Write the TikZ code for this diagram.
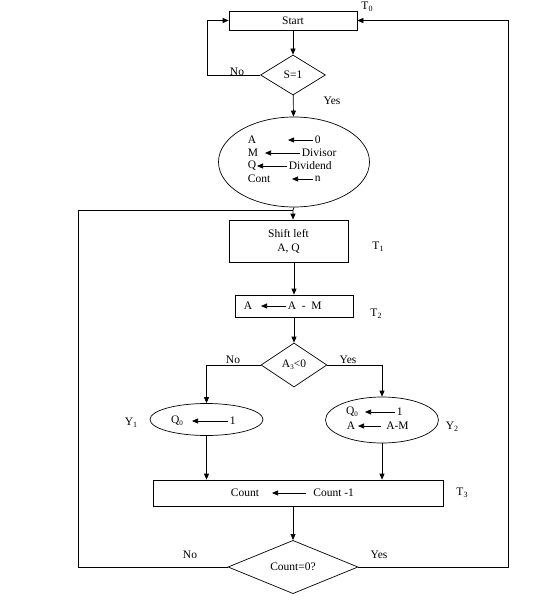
\documentclass[tikz,border=0pt]{standalone}
\usepackage{fontspec}
\setmainfont{Liberation Serif}
\usetikzlibrary{arrows.meta,shapes.geometric}
\newcommand{\lowidx}[1]{\raisebox{-.45ex}{\footnotesize #1}}
\newcommand{\tinyidx}[1]{\raisebox{-.35ex}{\scriptsize #1}}

\begin{document}
\begin{tikzpicture}[x=1pt,y=-1pt,font=\fontsize{11.5}{14}\selectfont,line width=.7pt,
  tip/.style={-{Triangle[length=6pt,width=5pt]}},
  box/.style={draw,rectangle,inner sep=0pt},
  test/.style={draw,diamond,inner sep=0pt},
  oval/.style={draw,ellipse,inner sep=0pt},
  lbl/.style={inner sep=1pt},
  rt/.style={anchor=west,inner sep=1.5pt}]
\useasboundingbox (0,0) rectangle (558,602);

% blocks
\node[box,minimum width=128,minimum height=19] (start) at (293,20.5) {Start};
\node[test,minimum width=65,minimum height=40] (s1) at (293,75) {S=1};
\node[oval,minimum width=151,minimum height=90] (init) at (294,162) {};
\node[box,minimum width=119,minimum height=42,align=center] (shift) at (288.5,241) {Shift left\\A, Q};
\node[box,minimum width=118,minimum height=22] (am) at (294,306) {};
\node[test,minimum width=66,minimum height=44] (a3) at (294,365) {A\tinyidx{3}<0};
\node[oval,minimum width=113,minimum height=32] (y1) at (206.5,419.5) {};
\node[oval,minimum width=113,minimum height=46] (y2) at (382,420) {};
\node[box,minimum width=290,minimum height=26] (cnt) at (298,493) {};
\node[test,minimum width=130,minimum height=46] (cz) at (293,567) {Count=0?};

% text inside the initial ellipse
\node[rt] (ia) at (246,140) {A};
\node[rt] (im) at (246,153) {M};
\node[rt] (iq) at (246,166) {Q};
\node[rt] (ic) at (246,179) {Cont};
\node[rt] (i0) at (313,140) {0};
\node[rt] (idv) at (300,153) {Divisor};
\node[rt] (idd) at (287,166) {Dividend};
\node[rt] (in) at (313,179) {n};
\draw[tip] (i0.west) -- ++(-25,0);
\draw[tip] (idv.west) -- ++(-35,0);
\draw[tip] (idd.west) -- ++(-30,0);
\draw[tip] (in.west) -- ++(-21,0);

% A <- A - M
\node[lbl] (ama) at (248,306) {A};
\node[rt] (amr) at (286,306) {A\ \ -\ \ M};
\draw[tip] (amr.west) -- ++(-25,0);

% Y1 / Y2 contents
\node[lbl] (q1) at (177,421) {Q\tinyidx{0}};
\node[rt] (one1) at (228,421) {1};
\draw[tip] (one1.west) -- ++(-36,0);
\node[lbl] (q2) at (352,412) {Q\tinyidx{0}};
\node[rt] (one2) at (395,412) {1};
\draw[tip] (one2.west) -- ++(-30,0);
\node[lbl] (a2) at (351,426) {A};
\node[rt,inner xsep=5pt] (amm) at (381,426) {A-M};
\draw[tip] (amm.west) -- ++(-23,0);

% Count <- Count -1
\node[lbl] (cl) at (245,493) {Count};
\node[rt,inner xsep=7pt] (cr) at (306,493) {Count -1};
\draw[tip] (cr.west) -- ++(-34,0);

% flow
\coordinate (j1) at (293,210);
\draw[tip] (start) -- (s1);
\draw[tip] (s1.west) -- ++(-53,0) |- (start.west);
\draw[tip] (s1) -- (init);
\draw[tip] (init.south) -- (j1) -- (j1 |- shift.north);
\draw[tip] (am.north |- shift.south) -- (am.north);
\draw[tip] (am) -- (a3);
\draw[tip] (a3.west) -| (y1.north);
\draw[tip] (a3.east) -| (y2.north);
\draw[tip] (y1.south) -- (y1.south |- cnt.north);
\draw[tip] (y2.south) -- (y2.south |- cnt.north);
\draw[tip] (cz.north |- cnt.south) -- (cz.north);
\draw (cz.west) -- ++(-149,0) |- (j1);
\draw[tip] (cz.east) -- ++(150,0) |- (start.east);

% labels
\node[lbl] (no1) at (237,72) {No};
\node[lbl] (yes1) at (332,101) {Yes};
\node[lbl] (t0) at (367,7) {T\lowidx{0}};
\node[lbl] (t1) at (378,247) {T\lowidx{1}};
\node[lbl] (t2) at (376,314) {T\lowidx{2}};
\node[lbl] (no2) at (233,360) {No};
\node[lbl] (yes2) at (348,360) {Yes};
\node[lbl] (ly1) at (131,423) {Y\lowidx{1}};
\node[lbl] (ly2) at (452,427) {Y\lowidx{2}};
\node[lbl] (t3) at (462,493) {T\lowidx{3}};
\node[lbl] (no3) at (190,555) {No};
\node[lbl] (yes3) at (379,555) {Yes};
\end{tikzpicture}
\end{document}
